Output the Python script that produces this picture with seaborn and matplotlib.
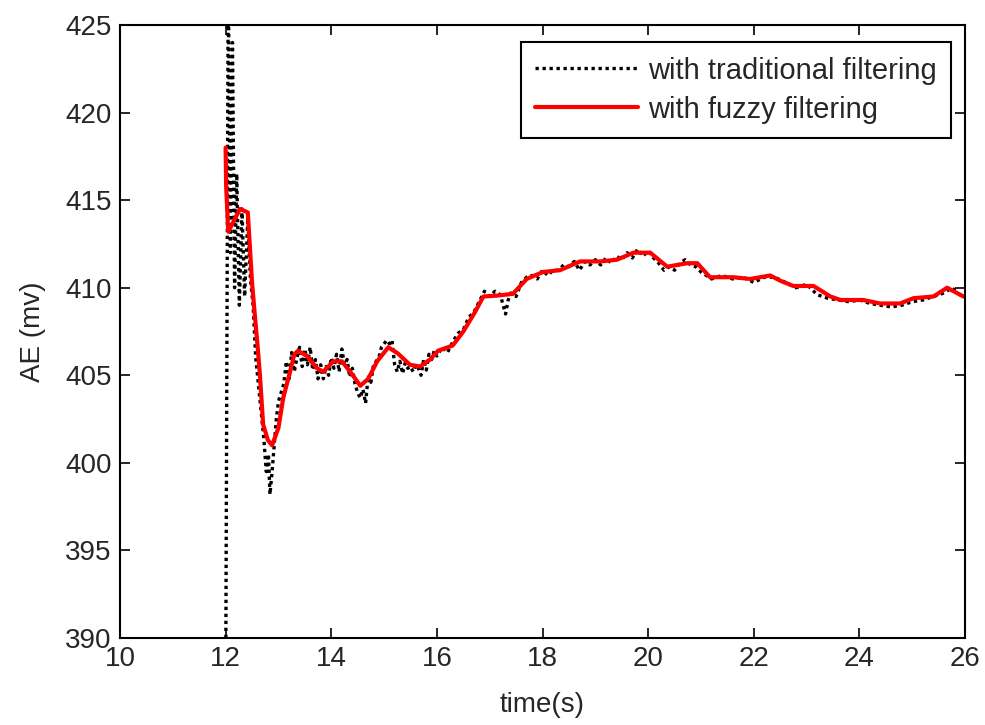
import matplotlib
matplotlib.use("Agg")
import matplotlib.pyplot as plt
import seaborn as sns
import pandas as pd

# ---------------- data ----------------
trad_t = [12.00, 12.05, 12.09, 12.13, 12.17, 12.21, 12.26, 12.31, 12.36, 12.42,
          12.47, 12.52, 12.57, 12.62, 12.67, 12.72, 12.77, 12.81, 12.84, 12.88,
          12.92, 12.96, 13.00, 13.05, 13.10, 13.15, 13.20, 13.25, 13.30, 13.35,
          13.40, 13.45, 13.50, 13.55, 13.60, 13.65, 13.70, 13.75, 13.80, 13.85,
          13.90, 13.95, 14.00, 14.05, 14.10, 14.15, 14.20, 14.25, 14.30, 14.35,
          14.40, 14.45, 14.50, 14.55, 14.60, 14.65, 14.70, 14.75, 14.80, 14.85,
          14.90, 14.95, 15.00, 15.05, 15.10, 15.15, 15.20, 15.25, 15.30, 15.35,
          15.40, 15.45, 15.50, 15.55, 15.60, 15.65, 15.70, 15.75, 15.80, 15.85,
          15.90, 15.95, 16.00, 16.10, 16.20, 16.30, 16.40, 16.50, 16.60, 16.70,
          16.80, 16.90, 17.00, 17.10, 17.20, 17.30, 17.35, 17.40, 17.50, 17.60,
          17.70, 17.80, 17.90, 18.00, 18.10, 18.20, 18.30, 18.40, 18.50, 18.60,
          18.70, 18.80, 18.90, 19.00, 19.10, 19.20, 19.30, 19.40, 19.50, 19.60,
          19.70, 19.80, 19.90, 20.00, 20.10, 20.20, 20.30, 20.40, 20.50, 20.60,
          20.70, 20.80, 20.90, 21.00, 21.10, 21.20, 21.40, 21.60, 21.80, 22.00,
          22.20, 22.40, 22.60, 22.80, 23.00, 23.20, 23.40, 23.60, 23.80, 24.00,
          24.20, 24.40, 24.60, 24.80, 25.00, 25.20, 25.40, 25.60, 25.75, 25.90,
          26.00]
trad_v = [386.0, 428.0, 412.0, 424.0, 410.0, 416.5, 409.0, 414.5, 409.5, 414.0,
          410.5, 409.0, 406.0, 404.5, 403.0, 401.5, 399.5, 400.5, 398.2, 399.5,
          401.0, 402.5, 403.5, 404.0, 404.5, 405.8, 404.8, 406.3, 405.2, 406.0,
          406.6, 405.5, 406.5, 405.6, 406.6, 405.3, 405.9, 404.8, 405.6, 404.8,
          405.5, 405.0, 406.0, 405.4, 406.2, 405.2, 406.5, 405.6, 405.9, 404.9,
          405.4, 404.5, 404.0, 403.7, 404.2, 403.4, 405.0, 404.6, 405.6, 405.8,
          406.0, 406.6, 406.8, 407.0, 406.8, 407.0, 405.6, 405.2, 405.8, 405.1,
          405.7, 405.4, 405.5, 405.2, 405.6, 405.4, 405.0, 405.9, 405.3, 406.2,
          405.9, 406.4, 406.1, 406.6, 406.3, 406.9, 407.4, 407.6, 408.3, 408.6,
          409.2, 409.8, 409.5, 409.8, 409.6, 408.5, 409.3, 409.7, 409.5, 410.3,
          410.6, 410.7, 410.5, 411.0, 410.7, 411.0, 411.0, 411.3, 411.2, 411.5,
          411.0, 411.5, 411.3, 411.6, 411.3, 411.7, 411.4, 411.8, 411.6, 412.0,
          411.7, 412.2, 411.8, 412.1, 411.7, 411.4, 411.0, 411.2, 411.0, 411.4,
          411.6, 411.3, 411.2, 410.9, 410.7, 410.5, 410.7, 410.5, 410.6, 410.3,
          410.6, 410.6, 410.3, 410.0, 410.2, 409.6, 409.4, 409.3, 409.2, 409.3,
          409.1, 409.0, 408.9, 409.0, 409.2, 409.3, 409.5, 409.7, 410.0, 409.6,
          409.5]

fuzzy_t = [12.00, 12.01, 12.05, 12.12, 12.27, 12.42, 12.50, 12.56, 12.61, 12.65,
           12.71, 12.80, 12.88, 13.00, 13.09, 13.22, 13.30, 13.37, 13.54, 13.73,
           13.85, 14.04, 14.20, 14.36, 14.55, 14.70, 14.87, 15.08, 15.26, 15.49,
           15.68, 15.87, 16.02, 16.30, 16.50, 16.72, 16.88, 17.14, 17.44, 17.70,
           18.01, 18.33, 18.71, 19.09, 19.41, 19.72, 20.04, 20.36, 20.74, 20.93,
           21.17, 21.61, 21.93, 22.31, 22.50, 22.75, 23.13, 23.45, 23.64, 24.07,
           24.39, 24.77, 25.02, 25.40, 25.66, 25.78, 25.97, 26.00]
fuzzy_v = [418.0, 415.8, 413.2, 413.6, 414.5, 414.3, 410.3, 408.2, 406.5, 405.0,
           402.2, 401.3, 401.0, 402.0, 403.7, 405.2, 406.2, 406.4, 406.1, 405.4,
           405.2, 405.8, 405.8, 405.2, 404.4, 404.8, 405.8, 406.6, 406.25, 405.6,
           405.5, 405.9, 406.4, 406.7, 407.5, 408.6, 409.5, 409.55, 409.65, 410.5,
           410.9, 411.0, 411.5, 411.5, 411.6, 412.0, 412.0, 411.2, 411.4, 411.4,
           410.6, 410.6, 410.5, 410.7, 410.4, 410.1, 410.1, 409.5, 409.3, 409.3,
           409.1, 409.1, 409.4, 409.5, 410.0, 409.8, 409.5, 409.5]

x_ticks = [10, 12, 14, 16, 18, 20, 22, 24, 26]
y_ticks = [390, 395, 400, 405, 410, 415, 420, 425]
label_trad = "with traditional filtering"
label_fuzzy = "with fuzzy filtering"

# ---------------- style ----------------
sns.set_theme(style="white")
plt.rcParams['font.family'] = ['Liberation Sans', 'DejaVu Sans']
text_col = '#262626'
FS = 20

fig = plt.figure(figsize=(9.85, 7.25), dpi=100)
ax = fig.add_axes([0.1218, 0.12, 0.858, 0.8455])

df_trad = pd.DataFrame({"t": trad_t, "v": trad_v})
df_fuzzy = pd.DataFrame({"t": fuzzy_t, "v": fuzzy_v})

sns.lineplot(data=df_trad, x="t", y="v", ax=ax, color="black", sort=False,
             linewidth=2.4, linestyle=(0, (1, 1.1)), label=label_trad,
             estimator=None)
sns.lineplot(data=df_fuzzy, x="t", y="v", ax=ax, color="#ff0000", sort=False,
             linewidth=3.0, label=label_fuzzy, estimator=None)

ax.set_xlim(10, 26)
ax.set_ylim(390, 425)
ax.set_xticks(x_ticks)
ax.set_yticks(y_ticks)
ax.set_xticklabels([str(v) for v in x_ticks])
ax.set_yticklabels([str(v) for v in y_ticks])

ax.tick_params(axis='both', direction='in', length=7, width=1.2, colors='black',
               labelcolor=text_col, labelsize=FS, top=True, right=True,
               bottom=True, left=True, pad=6)
for s in ax.spines.values():
    s.set_visible(True)
    s.set_color('black')
    s.set_linewidth(1.5)

ax.set_xlabel("time(s)", fontsize=FS, color=text_col, labelpad=14)
ax.set_ylabel("AE (mv)", fontsize=FS, color=text_col, labelpad=14)
ax.grid(False)

leg = ax.legend(loc='upper right', fontsize=21, frameon=True, fancybox=False,
                edgecolor='black', framealpha=1, handlelength=3.5,
                handletextpad=0.35, borderpad=0.5, labelspacing=0.38,
                borderaxespad=0.0, bbox_to_anchor=(0.9834, 0.9723),
                labelcolor=text_col)
leg.get_frame().set_linewidth(1.5)

fig.savefig("out.png", dpi=100, facecolor='white')
